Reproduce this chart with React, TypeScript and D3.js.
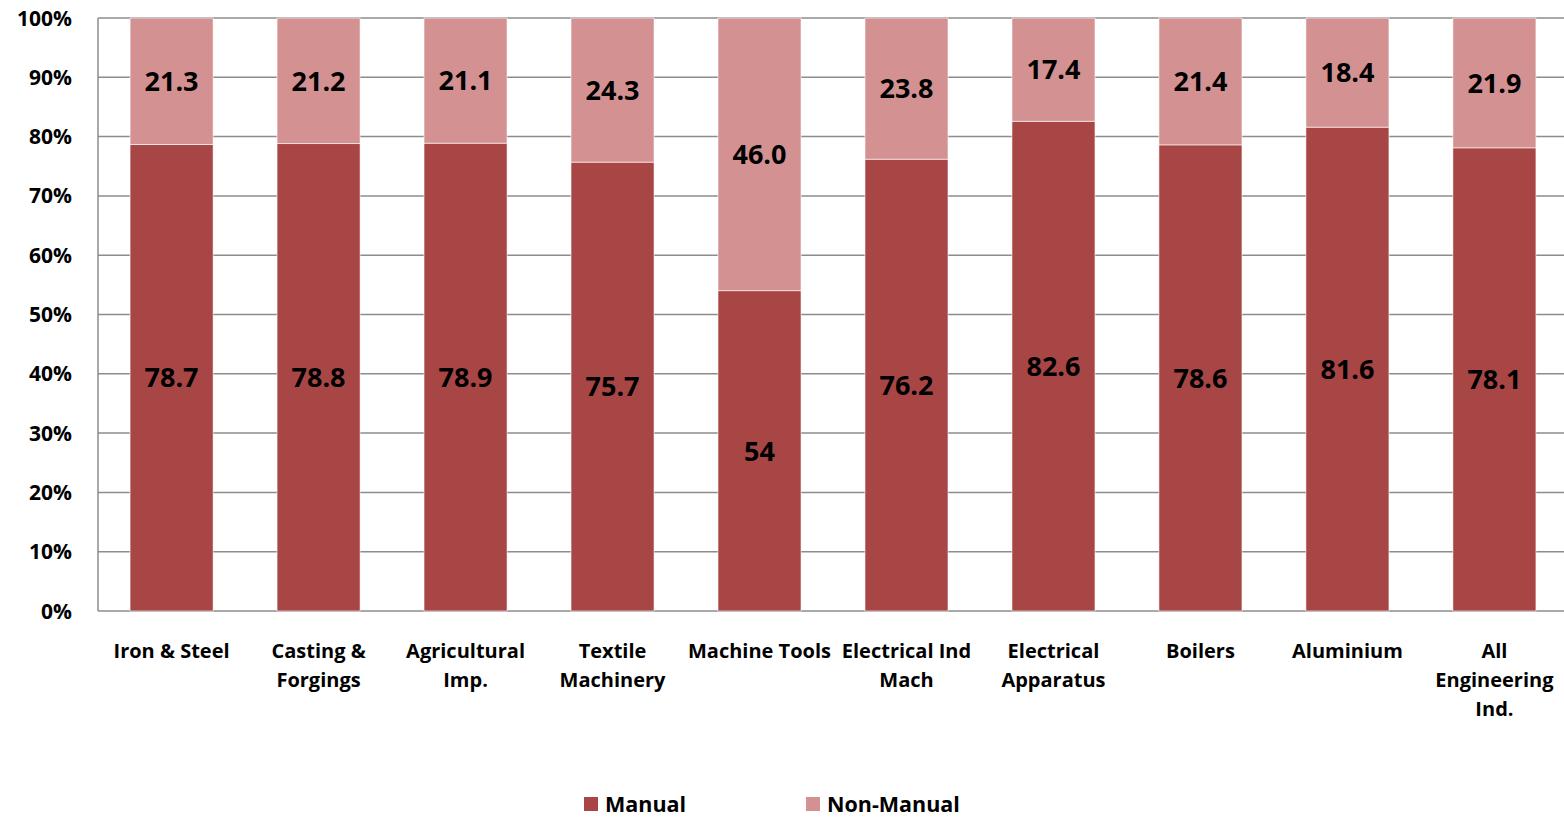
import React from 'react';
import * as d3 from 'd3';

// chart data
const categories = [
  'Iron & Steel',
  'Casting & Forgings',
  'Agricultural Imp.',
  'Textile Machinery',
  'Machine Tools',
  'Electrical Ind Mach',
  'Electrical Apparatus',
  'Boilers',
  'Aluminium',
  'All Engineering Ind.',
];
const categoryLines = [
  ['Iron & Steel'],
  ['Casting &', 'Forgings'],
  ['Agricultural', 'Imp.'],
  ['Textile', 'Machinery'],
  ['Machine Tools'],
  ['Electrical Ind', 'Mach'],
  ['Electrical', 'Apparatus'],
  ['Boilers'],
  ['Aluminium'],
  ['All', 'Engineering', 'Ind.'],
];
const manual = ['78.7', '78.8', '78.9', '75.7', '54', '76.2', '82.6', '78.6', '81.6', '78.1'];
const nonManual = ['21.3', '21.2', '21.1', '24.3', '46.0', '23.8', '17.4', '21.4', '18.4', '21.9'];
const yTicks = [0, 10, 20, 30, 40, 50, 60, 70, 80, 90, 100];
const seriesNames = ['Manual', 'Non-Manual'];
const seriesColors = ['#A84646', '#D39291'];

const W = 1564;
const H = 817;
const FONT = '"Open Sans", Lato, sans-serif';

export default function App() {
  const x = d3.scaleBand<string>()
      .domain(categories)
      .range([98, 1568])
      .paddingInner(0.435)
      .paddingOuter(0.218);
  const y = d3.scaleLinear().domain([0, 100]).range([611, 18]);

  const rows = categories.map((c, i) => {
    const m = +manual[i];
    const n = +nonManual[i];
    const total = m + n;
    return {cat: c, manual: (m / total) * 100, nonManual: (n / total) * 100};
  });
  const stack = d3.stack<any>().keys(['manual', 'nonManual'])(rows);
  const labels = [manual, nonManual];

  return (
    <svg width={W} height={H} style={{position: 'absolute', left: 0, top: 0, display: 'block'}}
         fontFamily={FONT} fontWeight="bold">
      {/* grid */}
      {yTicks.map((t) => (
        <g key={t}>
          <line x1={98} x2={W} y1={y(t)} y2={y(t)} stroke="#8c8c8c" strokeWidth={1.5}/>
          <text x={72} y={y(t)} dy="0.36em" textAnchor="end" fontSize={21} fill="#000">{t}%</text>
        </g>
      ))}
      <line x1={98} x2={98} y1={y(100)} y2={y(0)} stroke="#8c8c8c" strokeWidth={1.5}/>

      {/* bars */}
      {stack.map((layer, si) => (
        <g key={layer.key}>
          {layer.map((d, i) => (
            <g key={i}>
              <rect x={x(categories[i])} width={x.bandwidth()}
                    y={y(d[1])} height={y(d[0]) - y(d[1])}
                    fill={seriesColors[si]} stroke="#fff" strokeWidth={0.6}/>
              <text x={(x(categories[i]) as number) + x.bandwidth() / 2}
                    y={(y(d[0]) + y(d[1])) / 2} dy="0.36em"
                    textAnchor="middle" fontSize={27} fill="#000">
                {labels[si][i]}
              </text>
            </g>
          ))}
        </g>
      ))}

      {/* category labels */}
      {categoryLines.map((lines, i) => (
        <text key={i} x={(x(categories[i]) as number) + x.bandwidth() / 2} y={658}
              textAnchor="middle" fontSize={20} fill="#000">
          {lines.map((l, j) => (
            <tspan key={j} x={(x(categories[i]) as number) + x.bandwidth() / 2} dy={j === 0 ? 0 : 29}>{l}</tspan>
          ))}
        </text>
      ))}

      {/* legend */}
      {seriesNames.map((s, i) => {
        const lx = [584, 806][i];
        return (
          <g key={s}>
            <rect x={lx} y={797} width={14} height={14} fill={seriesColors[i]}/>
            <text x={lx + 21} y={804} dy="0.36em" fontSize={21.5} fill="#000">{s}</text>
          </g>
        );
      })}
    </svg>
  );
}
